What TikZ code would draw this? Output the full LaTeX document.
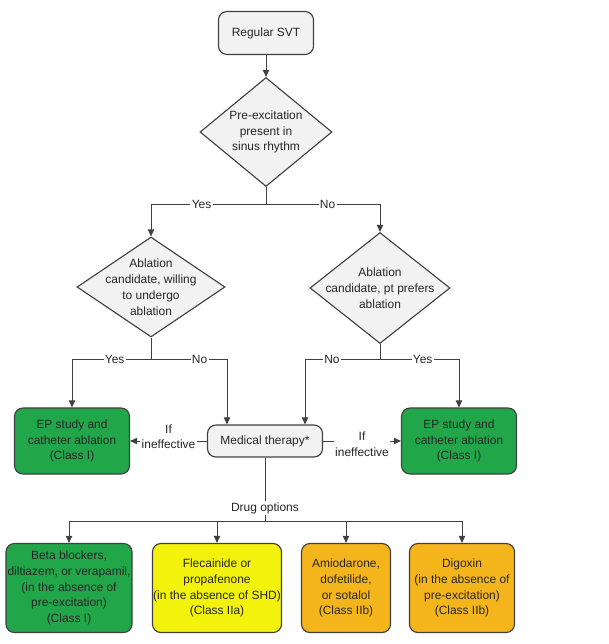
\documentclass[tikz,border=0pt]{standalone}
\usepackage{fontspec}
\setmainfont{Liberation Sans}
\usetikzlibrary{shapes.geometric,arrows.meta}
\definecolor{line_gray}{HTML}{404040}
\definecolor{box_gray}{HTML}{F2F2F2}
\definecolor{ep_green}{HTML}{22A64A}
\definecolor{drug_yellow}{HTML}{F2F20C}
\definecolor{drug_orange}{HTML}{F4B41C}

\begin{document}
\begin{tikzpicture}[x=0.025cm, y=-0.025cm,
    font=\fontsize{8.5}{11.3}\selectfont,
    flow/.style={draw=line_gray, line width=0.7pt},
    arr/.style={flow, -{Triangle[length=5pt, width=4.5pt]}},
    roundbox/.style={draw=line_gray, line width=0.8pt, rounded corners=6pt,
      align=center, inner sep=0pt, text=black!85},
    greybox/.style={roundbox, fill=box_gray},
    decision/.style={diamond, draw=line_gray, line width=0.8pt, fill=box_gray,
      inner sep=0pt},
    txt/.style={align=center, inner sep=0pt, text=black!85},
    lbl/.style={fill=white, inner sep=1pt, align=center, text=black!85}]

      \useasboundingbox (0,0) rectangle (608,644);

      % top of the chart
      \node[greybox, minimum width=2.375cm, minimum height=1.075cm] (svt) at (266,33) {Regular SVT};
      \node[decision, minimum width=3.3cm, minimum height=2.725cm] (d1) at (266,132) {};
      \node[txt] (d1t) at (d1) {Pre-excitation\\present in\\sinus rhythm};

      \node[decision, minimum width=3.7cm, minimum height=2.5cm] (d2) at (151,287) {};
      \node[txt] (d2t) at (d2) {Ablation\\candidate, willing\\to undergo\\ablation};
      \node[decision, minimum width=3.5cm, minimum height=2.775cm] (d3) at (380,288) {};
      \node[txt] (d3t) at (d3) {Ablation\\candidate, pt prefers\\ablation};

      \node[roundbox, fill=ep_green, minimum width=2.875cm, minimum height=1.65cm] (ep1) at (72,441) {EP study and\\catheter ablation\\(Class I)};
      \node[roundbox, fill=ep_green, minimum width=2.875cm, minimum height=1.65cm] (ep2) at (459,441) {EP study and\\catheter ablation\\(Class I)};
      \node[greybox, minimum width=2.875cm, minimum height=0.8cm] (med) at (265,441) {Medical therapy*};

      % drug options
      \node[roundbox, fill=ep_green, minimum width=3.15cm, minimum height=2.225cm] (k1) at (69,588) {Beta blockers,\\diltiazem, or verapamil,\\(in the absence of\\pre-excitation)\\(Class I)};
      \node[roundbox, fill=drug_yellow, minimum width=3.225cm, minimum height=2.225cm] (k2) at (217,588) {Flecainide or\\propafenone\\(in the absence of SHD)\\(Class IIa)};
      \node[roundbox, fill=drug_orange, minimum width=2.225cm, minimum height=2.225cm] (k3) at (346,588) {Amiodarone,\\dofetilide,\\or sotalol\\(Class IIb)};
      \node[roundbox, fill=drug_orange, minimum width=2.625cm, minimum height=2.225cm] (k4) at (462,588) {Digoxin\\(in the absence of\\pre-excitation)\\(Class IIb)};

      \coordinate (b1) at (266,204);
      \coordinate (b2) at (151,359);
      \coordinate (b3) at (380,359);
      \coordinate (bar) at (265,521);

      \draw[arr] (svt) -- (d1);
      \draw[flow] (d1.south) -- (b1);
      \draw[arr] (b1) -| node[lbl, pos=0.28] {Yes} (d2.north);
      \draw[arr] (b1) -| node[lbl, pos=0.27] {No} (d3.north);

      \draw[flow] (d2.south) -- (b2);
      \draw[arr] (b2) -| node[lbl, pos=0.23] {Yes} (ep1.north);
      \draw[arr] (b2) -| node[lbl, pos=0.32] {No} ([xshift=-0.95cm]med.north);
      \draw[flow] (d3.south) -- (b3);
      \draw[arr] (b3) -| node[lbl, pos=0.32] {No} ([xshift=1cm]med.north);
      \draw[arr] (b3) -| node[lbl, pos=0.27] {Yes} (ep2.north);

      \draw[arr] (med.west) -- node[lbl, yshift=3pt] {If\\ineffective} (ep1.east);
      \draw[arr] (med.east) -- node[lbl, yshift=-2pt] {If\\ineffective} (ep2.east -| ep2.west);

      \draw[flow] (med.south) -- node[lbl, pos=0.8] (opt) {Drug options} (bar);
      \foreach \k in {k1,k2,k3,k4}
        \draw[arr] (bar) -| (\k.north);

    \end{tikzpicture}
\end{document}
